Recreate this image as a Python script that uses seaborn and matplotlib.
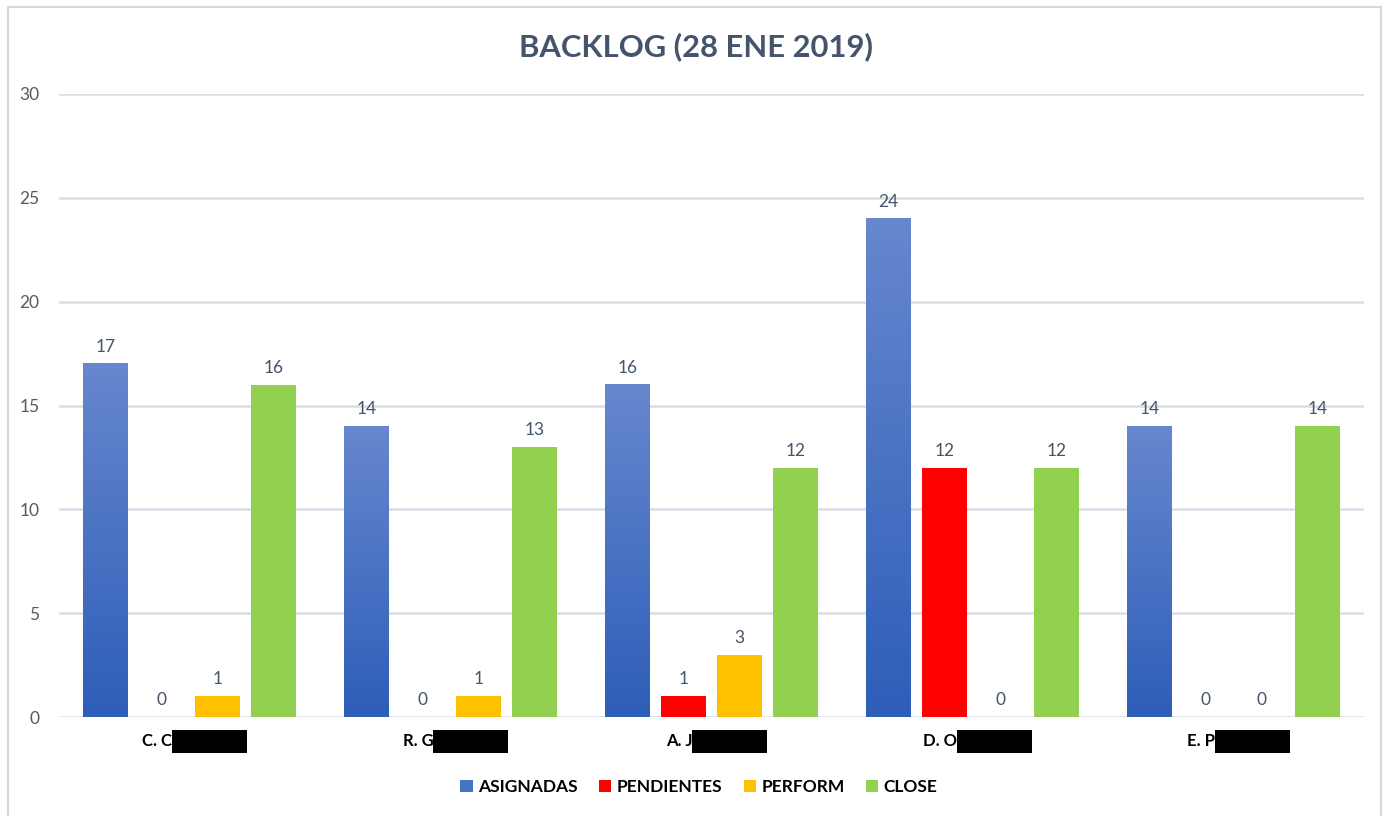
import numpy as np
import pandas as pd
import matplotlib
matplotlib.use("Agg")
import matplotlib.pyplot as plt
from matplotlib.patches import Rectangle
from matplotlib.colors import LinearSegmentedColormap
import seaborn as sns

# ---- data ----
categories = ["C. C", "R. G", "A. J", "D. O", "E. P"]
series = ["ASIGNADAS", "PENDIENTES", "PERFORM", "CLOSE"]
asignadas = [17, 14, 16, 24, 14]
pendientes = [0, 0, 1, 12, 0]
perform = [1, 1, 3, 0, 0]
close = [16, 13, 12, 12, 14]
y_ticks = [0, 5, 10, 15, 20, 25, 30]
title = "BACKLOG (28 ENE 2019)"

colors = ["#4472C4", "#FF0000", "#FFC000", "#92D050"]
blue_dark, blue_light = "#2D5EB8", "#6787CE"
text_grey = "#44546A"
grid_col = "#D9DEE6"

df = pd.DataFrame({
    "persona": categories * len(series),
    "serie": np.repeat(series, len(categories)),
    "valor": asignadas + pendientes + perform + close,
})

sns.set_theme(style="white")
plt.rcParams["font.family"] = ["Lato", "DejaVu Sans"]

W, H = 1388, 816
fig = plt.figure(figsize=(W / 100, H / 100), dpi=100)
fig.patch.set_facecolor("white")
ax = fig.add_axes([59 / W, 1 - 717 / H, (1364 - 59) / W, (717 - 94) / H])

sns.barplot(data=df, x="persona", y="valor", hue="serie", hue_order=series,
            order=categories, palette=colors, saturation=1, width=0.857,
            gap=0.2, linewidth=0, ax=ax, errorbar=None)

# vertical gradient on the ASIGNADAS bars
cmap = LinearSegmentedColormap.from_list("azul", [blue_dark, blue_light])
grad = np.linspace(1, 0, 256).reshape(-1, 1)
for bar in ax.containers[0]:
    x0, w, h = bar.get_x(), bar.get_width(), bar.get_height()
    if h > 0:
        ax.imshow(grad, extent=[x0, x0 + w, 0, h], cmap=cmap, aspect="auto",
                  origin="upper", zorder=bar.get_zorder() + 0.1,
                  interpolation="bilinear")

for cont in ax.containers:
    ax.bar_label(cont, fmt="{:.0f}", padding=6.5, color=text_grey, fontsize=12.5)

ax.set_xlim(-0.5, len(categories) - 0.5)
ax.set_ylim(0, 30)
ax.set_yticks(y_ticks)
ax.set_yticklabels([str(v) for v in y_ticks])
ax.tick_params(axis="y", length=0, pad=14, labelsize=12.5, labelcolor="#595959")
ax.tick_params(axis="x", length=0)
ax.set_xticks(range(len(categories)))
ax.set_xticklabels([])
ax.set_xlabel("")
ax.set_ylabel("")
ax.yaxis.grid(True, color=grid_col, linewidth=1.8)
ax.set_axisbelow(True)
for s in ax.spines.values():
    s.set_visible(False)

# legend
handles, labels = ax.get_legend_handles_labels()
ax.get_legend().remove()
leg = fig.legend(handles, labels, loc="center", bbox_to_anchor=(0.5035, 1 - 787 / H),
                 ncol=4, frameon=False, handlelength=0.7, handleheight=0.7,
                 handletextpad=0.3, columnspacing=1.25,
                 prop={"weight": "bold", "size": 12.5})
for t in leg.get_texts():
    t.set_color("black")

# title
fig.text(0.5015, 1 - 47 / H, title, ha="center", va="center",
         fontsize=22.3, fontweight="bold", color=text_grey)

# category labels, each followed by a black redaction block
fig.canvas.draw()
renderer = fig.canvas.get_renderer()
box_w, box_h = 75, 23
label_y = 741.5
for i, name in enumerate(categories):
    t = fig.text(0, 1 - label_y / H, name, ha="left", va="center",
                 fontsize=12, fontweight="bold", color="black")
    tw = t.get_window_extent(renderer).width
    cx = ax.transData.transform((i, 0))[0] + 5
    x_left = cx - (tw + box_w) / 2
    t.set_x(x_left / W)
    fig.add_artist(Rectangle(((x_left + tw) / W, 1 - (label_y + box_h / 2) / H),
                             box_w / W, box_h / H, transform=fig.transFigure,
                             facecolor="black", edgecolor="none"))

# outer frame
fig.add_artist(Rectangle((8 / W, -0.01), (1381 - 8) / W, 1 - 7 / H + 0.01,
                         transform=fig.transFigure, fill=False,
                         edgecolor="#D9D9D9", linewidth=1.5))

fig.savefig("out.png", dpi=100)
